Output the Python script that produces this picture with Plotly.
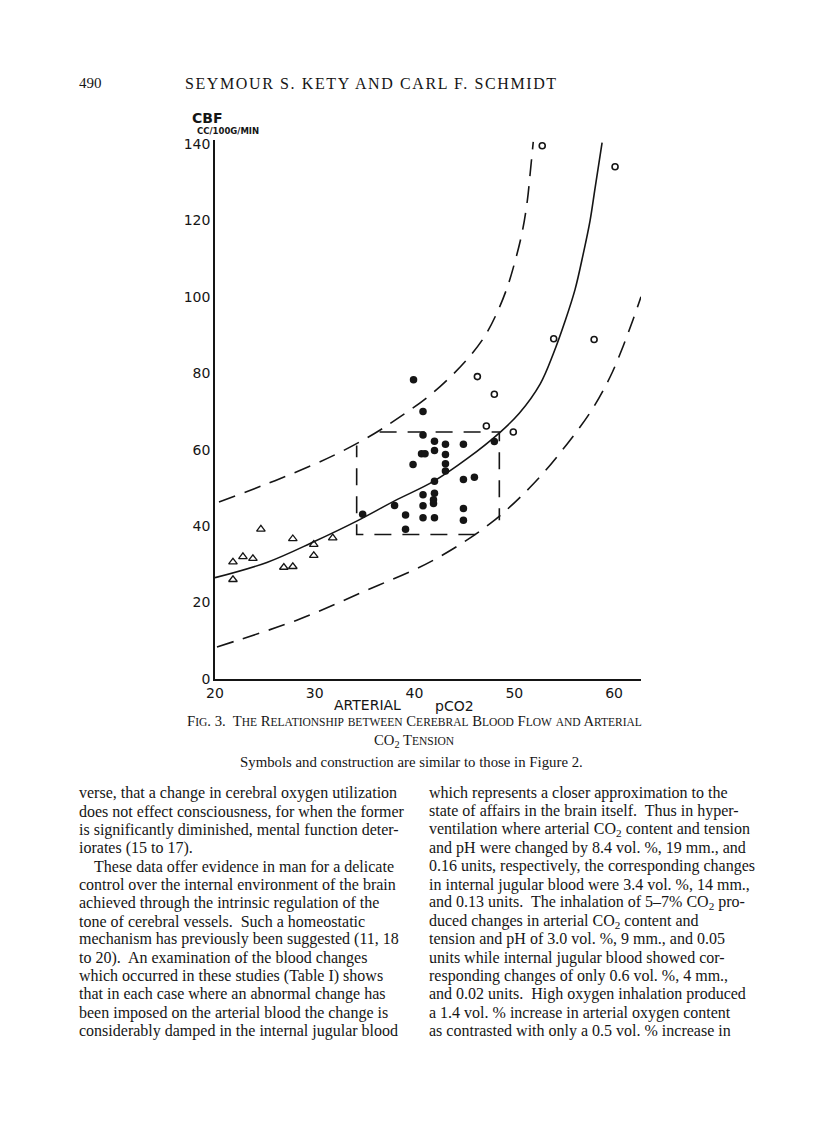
import plotly.graph_objects as go

# Arterial pCO2 (x) vs CBF cc/100g/min (y)
tri_x = [21.8, 21.8, 22.8, 23.8, 24.6, 26.9, 27.8, 27.8, 29.9, 29.9, 31.8]
tri_y = [30.6, 26.0, 32.0, 31.5, 39.2, 29.2, 29.4, 36.7, 35.2, 32.3, 36.9]

dot_x = [39.9, 40.85, 40.85, 42.0, 43.1, 44.9, 40.7, 41.05, 42.0, 43.1,
         39.85, 43.1, 43.1, 42.0, 44.9, 46.0, 48.0, 40.85, 42.0, 41.9,
         41.9, 40.85, 38.0, 34.8, 39.1, 40.85, 42.0, 44.9, 44.9, 39.1]
dot_y = [78.3, 70.0, 63.8, 62.2, 61.4, 61.4, 58.9, 58.9, 59.8, 58.7,
         56.1, 56.3, 54.4, 51.7, 52.2, 52.8, 62.1, 48.2, 48.6, 46.9,
         45.9, 45.3, 45.4, 43.1, 42.9, 42.2, 42.2, 44.6, 41.5, 39.2]

ring_x = [52.8, 60.1, 53.95, 58.0, 46.3, 48.0, 47.2, 49.9]
ring_y = [139.5, 134.0, 89.0, 88.8, 79.1, 74.5, 66.2, 64.6]

# curves
mid_x = [20, 25.2, 29.9, 34.2, 38.0, 41.9, 45.3, 48.6, 50.5, 52.6, 53.9, 55.1, 56.1, 56.9, 57.6, 58.1, 58.8]
mid_y = [26.5, 30.5, 35.9, 41.3, 46.6, 51.7, 57.7, 64.6, 69.5, 77.2, 85.0, 93.7, 102.0, 111.1, 120.0, 128.5, 140.3]

up_x = [20.4, 26.5, 31.9, 35.9, 38.5, 41.2, 43.5, 45.4, 47.0, 48.3, 49.3, 50.1, 50.8, 51.3, 51.6, 51.9]
up_y = [46.3, 52.4, 58.5, 64.1, 68.5, 73.5, 78.8, 84.0, 89.5, 96.0, 102.5, 109.5, 117.0, 125.0, 132.5, 140.5]

lo_x = [20.2, 28.2, 35.2, 41.9, 47.6, 51.9, 55.3, 57.8, 59.6, 60.9, 61.9, 62.7]
lo_y = [8.4, 15.4, 23.2, 31.1, 40.7, 51.0, 61.5, 70.5, 79.0, 87.0, 94.0, 100.0]

# normal range box (broken where it meets the dashed band)
box_x = [36.5, 48.5, 48.5, None, 46.1, 34.2, 34.2]
box_y = [64.6, 64.6, 41.5, None, 37.8, 37.8, 61.1]

x_ticks = [20, 30, 40, 50, 60]
y_ticks = [0, 20, 40, 60, 80, 100, 120, 140]

left_col = [
    "verse, that a change in cerebral oxygen utilization",
    "does not effect consciousness, for when the former",
    "is significantly diminished, mental function deter-",
    "iorates (15 to 17).",
    "These data offer evidence in man for a delicate",
    "control over the internal environment of the brain",
    "achieved through the intrinsic regulation of the",
    "tone of cerebral vessels.  Such a homeostatic",
    "mechanism has previously been suggested (11, 18",
    "to 20).  An examination of the blood changes",
    "which occurred in these studies (Table I) shows",
    "that in each case where an abnormal change has",
    "been imposed on the arterial blood the change is",
    "considerably damped in the internal jugular blood",
]
right_col = [
    "which represents a closer approximation to the",
    "state of affairs in the brain itself.  Thus in hyper-",
    "ventilation where arterial CO<sub>2</sub> content and tension",
    "and pH were changed by 8.4 vol. %, 19 mm., and",
    "0.16 units, respectively, the corresponding changes",
    "in internal jugular blood were 3.4 vol. %, 14 mm.,",
    "and 0.13 units.  The inhalation of 5\u20137% CO<sub>2</sub> pro-",
    "duced changes in arterial CO<sub>2</sub> content and",
    "tension and pH of 3.0 vol. %, 9 mm., and 0.05",
    "units while internal jugular blood showed cor-",
    "responding changes of only 0.6 vol. %, 4 mm.,",
    "and 0.02 units.  High oxygen inhalation produced",
    "a 1.4 vol. % increase in arterial oxygen content",
    "as contrasted with only a 0.5 vol. % increase in",
]

INK = "#151515"
OFF = 8                       # page body margin of the html
W, H = 816 - OFF, 1130 - OFF
L, R, T, B = 215, 641, 140, 679   # plot area in reference pixels


def sc(s, small=11.5):
    # fake small caps: lowercase letters become smaller capitals
    out, buf = "", ""
    for ch in s:
        if ch.islower():
            buf += ch.upper()
        else:
            if buf:
                out += "<span style='font-size:%spx'>%s</span>" % (small, buf)
                buf = ""
            out += ch
    if buf:
        out += "<span style='font-size:%spx'>%s</span>" % (small, buf)
    return out


fig = go.Figure()

dash_band = dict(color=INK, width=1.6, dash="17px,10px", shape="spline", smoothing=1.0)
fig.add_trace(go.Scatter(x=up_x, y=up_y, mode="lines", line=dash_band))
fig.add_trace(go.Scatter(x=lo_x, y=lo_y, mode="lines", line=dash_band))
fig.add_trace(go.Scatter(x=mid_x, y=mid_y, mode="lines",
                         line=dict(color=INK, width=1.6, shape="spline", smoothing=1.0)))
fig.add_trace(go.Scatter(x=box_x, y=box_y, mode="lines",
                         line=dict(color=INK, width=1.6, dash="17px,11px")))

fig.add_trace(go.Scatter(x=tri_x, y=tri_y, mode="markers",
                         marker=dict(symbol="triangle-up-open", size=7.5, color=INK,
                                     line=dict(width=1.3, color=INK))))
fig.add_trace(go.Scatter(x=dot_x, y=dot_y, mode="markers",
                         marker=dict(symbol="circle", size=7.5, color=INK, line=dict(width=0))))
fig.add_trace(go.Scatter(x=ring_x, y=ring_y, mode="markers",
                         marker=dict(symbol="circle-open", size=6, color=INK,
                                     line=dict(width=1.6, color=INK))))

fig.update_xaxes(range=[20, 62.7], tickvals=x_ticks, ticks="", ticklen=0, showgrid=False,
                 zeroline=False, showline=True, linecolor=INK, linewidth=2,
                 tickfont=dict(family="DejaVu Sans", size=14, color=INK))
fig.update_yaxes(range=[0, 141], tickvals=y_ticks, ticks="", ticklen=0, showgrid=False,
                 zeroline=False, showline=True, linecolor=INK, linewidth=1.6,
                 tickfont=dict(family="DejaVu Sans", size=14, color=INK))


def txt(px, py, s, size, family="Liberation Serif", anchor="left"):
    fig.add_annotation(x=(px - L) / (R - L), y=(B - py) / (B - T), xref="paper", yref="paper",
                       text=s, showarrow=False, xanchor=anchor, yanchor="middle",
                       font=dict(family=family, size=size, color=INK))


# running head
txt(77, 83, "490", 15)
txt(371, 84, "<span style='letter-spacing:1.6px'>SEYMOUR S. KETY AND CARL F. SCHMIDT</span>",
    16, anchor="center")

# axis labels drawn in lettering style
txt(190, 118, "<b>CBF</b>", 14, family="DejaVu Sans")
txt(195, 131, "<b>CC/100G/MIN</b>", 8.5, family="DejaVu Sans")
txt(332, 705, "ARTERIAL", 14, family="DejaVu Sans")
txt(433, 706, "pCO2", 14, family="DejaVu Sans")

# caption
txt(414, 721, sc("Fig. 3.  The Relationship between Cerebral Blood Flow and Arterial"), 14.7, anchor="center")
txt(414, 741, "CO<sub>2</sub> " + sc("Tension"), 14.7, anchor="center")
txt(411, 762, "Symbols and construction are similar to those in Figure 2.", 14.8, anchor="center")

# body text, two columns
for i, line in enumerate(left_col):
    x0 = 92 if i == 4 else 77
    txt(x0, 793 + i * 18.3, line, 16)
for i, line in enumerate(right_col):
    txt(427, 793 + i * 18.3, line, 16)

fig.update_layout(width=W, height=H, showlegend=False,
                  margin=dict(l=L - OFF, r=W - (R - OFF), t=T - OFF, b=H - (B - OFF)),
                  paper_bgcolor="white", plot_bgcolor="white")

fig.write_html("out.html")
